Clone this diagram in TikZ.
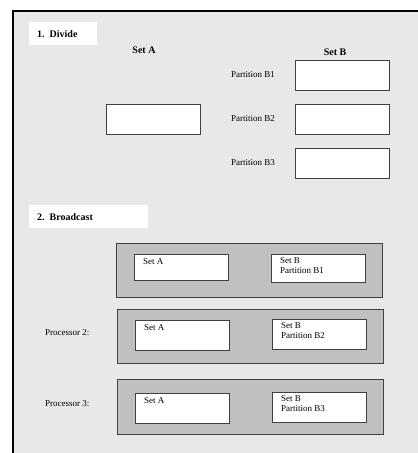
\documentclass[tikz,border=0pt]{standalone}
\usepackage{fontspec}
\setmainfont{Liberation Serif}
\definecolor{panel}{HTML}{E8E8E8}
\definecolor{procfill}{HTML}{C0C0C0}
\definecolor{boxline}{HTML}{404040}
\begin{document}
\begin{tikzpicture}[x=1pt,y=-1pt,
  wbox/.style={draw=boxline, fill=white, line width=0.9pt, anchor=north west,
    inner sep=0pt, minimum width=94pt, minimum height=30pt},
  procbox/.style={draw=boxline, fill=procfill, line width=0.9pt, anchor=north west,
    inner sep=0pt, minimum width=266pt, minimum height=54pt},
  titlebox/.style={fill=white, anchor=north west, inner xsep=8pt, inner ysep=0pt,
    minimum height=23pt, font=\fontsize{10}{12}\selectfont\bfseries, align=left},
  head/.style={font=\fontsize{10}{12}\selectfont\bfseries},
  lbl/.style={font=\fontsize{9}{10.5}\selectfont, anchor=west, inner sep=0pt},
  intext/.style={font=\fontsize{9}{10.5}\selectfont, anchor=north west, inner sep=0pt, align=left}]
  \useasboundingbox (0,0) rectangle (418,453);
  % background panel with its top and left edge
  \fill[panel] (13,11) rectangle (420,455);
  \draw[line width=2pt] (13,455) -- (13,11) -- (420,11);

  % ---- 1. Divide ----
  \node[titlebox, text width=52pt] (divide) at (29,22) {1. Divide};
  \node[head] (hA) at (144,50) {Set A};
  \node[head] (hB) at (335,52) {Set B};
  \node[wbox] (setA) at (106,104) {};
  \node[wbox] (pB1) at (295,60) {};
  \node[wbox] (pB2) at (295,104) {};
  \node[wbox] (pB3) at (295,148) {};
  \node[lbl] (lB1) at (231,75) {Partition B1};
  \node[lbl] (lB2) at (231,119) {Partition B2};
  \node[lbl] (lB3) at (231,163) {Partition B3};

  % ---- 2. Broadcast ----
  \node[titlebox, text width=103pt] (bcast) at (29,205) {2. Broadcast};

  \node[procbox] (p1) at (116,243) {};
  \node[wbox, minimum height=26pt] (p1a) at (134,254) {};
  \node[wbox, minimum height=28pt] (p1b) at (271,254) {};
  \node[intext] (p1at) at ([shift={(9,4)}]p1a.north west) {Set A};
  \node[intext] (p1bt) at ([shift={(9,3)}]p1b.north west) {Set B\\Partition B1};

  \node[procbox] (p2) at (117,309) {};
  \node[wbox] (p2a) at (135,320) {};
  \node[wbox] (p2b) at (272,319) {};
  \node[intext] (p2at) at ([shift={(9,4)}]p2a.north west) {Set A};
  \node[intext] (p2bt) at ([shift={(9,3)}]p2b.north west) {Set B\\Partition B2};
  \node[lbl] (l2) at (45,333) {Processor 2:};

  \node[procbox, minimum height=55pt] (p3) at (117,379) {};
  \node[wbox] (p3a) at (135,393) {};
  \node[wbox] (p3b) at (272,392) {};
  \node[intext] (p3at) at ([shift={(9,4)}]p3a.north west) {Set A};
  \node[intext] (p3bt) at ([shift={(9,3)}]p3b.north west) {Set B\\Partition B3};
  \node[lbl] (l3) at (45,404) {Processor 3:};
\end{tikzpicture}
\end{document}
